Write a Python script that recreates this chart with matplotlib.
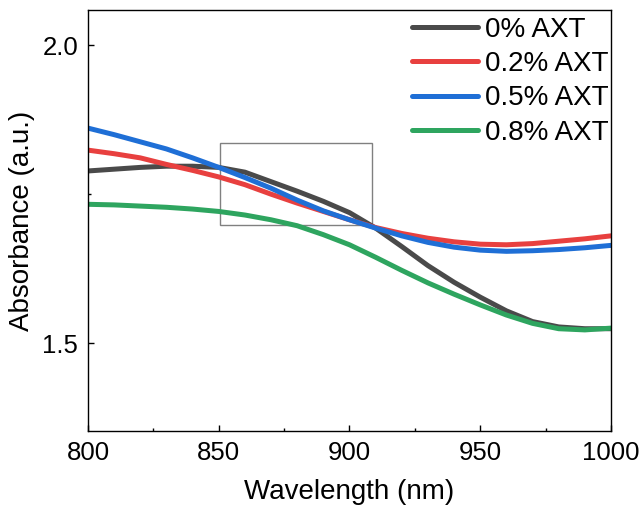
import matplotlib
matplotlib.use("Agg")
import matplotlib.pyplot as plt
from matplotlib.patches import Rectangle
from matplotlib.ticker import MultipleLocator

plt.rcParams['font.family'] = ['Liberation Sans', 'DejaVu Sans']

wavelength = [800, 810, 820, 830, 840, 850, 860, 870, 880, 890, 900,
              910, 920, 930, 940, 950, 960, 970, 980, 990, 1000]
axt_0 = [1.789, 1.792, 1.795, 1.797, 1.797, 1.795, 1.787, 1.771, 1.755, 1.738, 1.719,
         1.693, 1.662, 1.630, 1.602, 1.577, 1.554, 1.536, 1.527, 1.524, 1.524]
axt_02 = [1.824, 1.818, 1.811, 1.800, 1.790, 1.779, 1.766, 1.750, 1.735, 1.721, 1.707,
          1.694, 1.684, 1.676, 1.670, 1.666, 1.665, 1.667, 1.671, 1.675, 1.680]
axt_05 = [1.861, 1.850, 1.838, 1.826, 1.811, 1.795, 1.778, 1.760, 1.740, 1.722, 1.707,
          1.693, 1.680, 1.669, 1.661, 1.656, 1.654, 1.655, 1.657, 1.660, 1.664]
axt_08 = [1.733, 1.732, 1.730, 1.728, 1.725, 1.721, 1.715, 1.707, 1.697, 1.682, 1.665,
          1.644, 1.622, 1.601, 1.582, 1.564, 1.547, 1.533, 1.524, 1.522, 1.525]
labels = ['0% AXT', '0.2% AXT', '0.5% AXT', '0.8% AXT']
colors = ['#4a4a4a', '#e8403f', '#1f6fd6', '#2ea55f']
zoom_box = (850.5, 1.698, 58.1, 0.138)

fig = plt.figure(figsize=(6.44, 5.12), dpi=100)
ax = fig.add_axes([0.1366, 0.158, 0.8122, 0.822])

for y, lab, c in zip([axt_0, axt_02, axt_05, axt_08], labels, colors):
    ax.plot(wavelength, y, color=c, lw=3.6, label=lab, solid_capstyle='round',
            solid_joinstyle='round')

ax.add_patch(Rectangle((zoom_box[0], zoom_box[1]), zoom_box[2], zoom_box[3],
                       fill=False, edgecolor='#808080', lw=1))

ax.set_xlim(800, 1000)
ax.set_ylim(1.352, 2.059)
ax.xaxis.set_major_locator(MultipleLocator(50))
ax.xaxis.set_minor_locator(MultipleLocator(25))
ax.yaxis.set_major_locator(MultipleLocator(0.5))
ax.yaxis.set_minor_locator(MultipleLocator(0.25))
ax.tick_params(which='major', direction='in', length=4.5, width=1, labelsize=18.5, pad=7)
ax.tick_params(which='minor', direction='in', length=2.5, width=1)
for s in ax.spines.values():
    s.set_linewidth(1)
ax.set_xlabel('Wavelength (nm)', fontsize=20, labelpad=10)
ax.set_ylabel('Absorbance (a.u.)', fontsize=20, labelpad=5)

ax.legend(loc='upper right', bbox_to_anchor=(1.0, 0.991), frameon=False,
          fontsize=20, handlelength=2.35, handletextpad=0.25, labelspacing=0.3,
          borderaxespad=0.0, borderpad=0.1)

fig.savefig('out.png', dpi=100)
